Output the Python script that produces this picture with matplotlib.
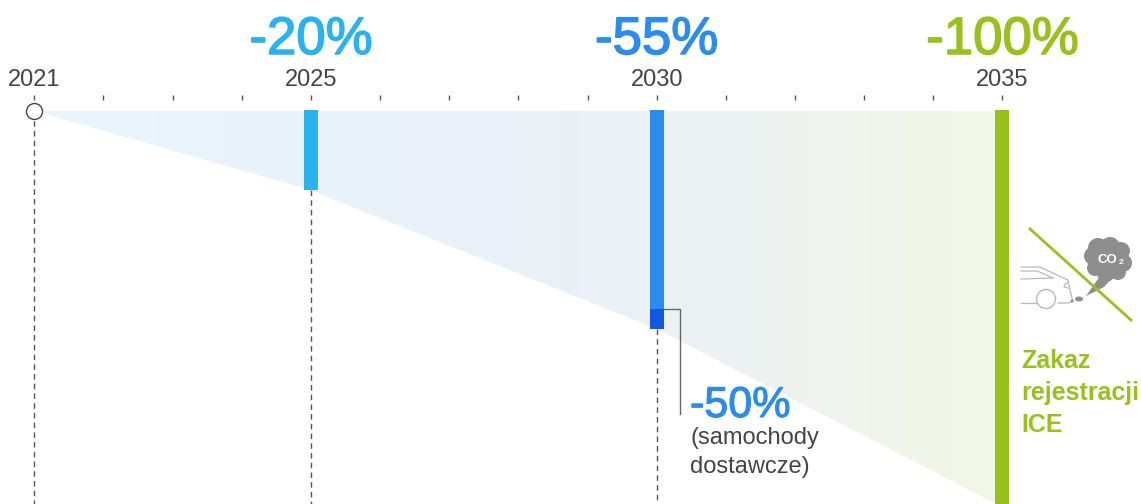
import numpy as np
import matplotlib
matplotlib.use("Agg")
import matplotlib.pyplot as plt
from matplotlib.colors import LinearSegmentedColormap
from matplotlib.patches import Polygon, Circle, Ellipse
import matplotlib.patheffects as pe

plt.rcParams['font.family'] = ['Liberation Sans', 'DejaVu Sans']

# ---- data ----
years_curve = [2021, 2025, 2030, 2035]
reduction_curve = [0, 20, 55, 100]
tick_years = list(range(2021, 2036))
label_years = [2021, 2025, 2030, 2035]
label_texts = ['2021', '2025', '2030', '2035']
target_years = [2025, 2030, 2035]
target_values = [20, 55, 100]
target_labels = ['-20%', '-55%', '-100%']
van_year = 2030
van_value = 50
van_label = '-50%'
van_note = ['(samochody', 'dostawcze)']
ban_label = ['Zakaz', 'rejestracji', 'ICE']

# ---- styles ----
W, H = 1141, 504
C_LIGHT = '#2ab2ee'
C_BLUE = '#2a8cee'
C_DARK = '#1259e0'
C_GREEN = '#98c11d'
C_TEXT = '#444444'
C_LINE = '#555555'
target_colors = [C_LIGHT, C_BLUE, C_GREEN]

PX_PER_YEAR = 69.15
X0_PX = 34.3
Y0_PX = 111.0
PX_PER_PCT = 3.96
BAR_W = 14 / PX_PER_YEAR


def yp(px):
    """Vertical pixel position expressed on the percent axis."""
    return (px - Y0_PX) / PX_PER_PCT


def xp(px):
    """Horizontal pixel position expressed on the year axis."""
    return 2021 + (px - X0_PX) / PX_PER_YEAR


fig = plt.figure(figsize=(W / 100, H / 100), dpi=100)
ax = fig.add_axes([0, 0, 1, 1])
xlim = (xp(0), xp(W))
ylim = (yp(H), yp(0))
ax.axis('off')

# gradient wedge
cmap = LinearSegmentedColormap.from_list(
    'wedge', ['#e9f6fd', '#e9f2fa', '#e9f0f7', '#edf2f1', '#f3f7e6'])
grad = np.linspace(0, 1, 256).reshape(1, -1)
im = ax.imshow(grad, extent=[2021, 2035, 100, 0], cmap=cmap, aspect='auto',
               zorder=1, interpolation='bilinear')
ax.set_xlim(*xlim)
ax.set_ylim(*ylim)
verts = [(2021, 0)] + [(2035, 0)] + list(zip(years_curve[::-1], reduction_curve[::-1]))
clip = Polygon(verts, closed=True, transform=ax.transData, fc='none', ec='none')
ax.add_patch(clip)
im.set_clip_path(clip)

# dashed guides
for yr, v in zip(years_curve[:-1], reduction_curve[:-1]):
    ax.plot([yr, yr], [v, 100], color=C_LINE, lw=1, dashes=(4, 3), zorder=2)

# year ticks
ax.vlines(tick_years, yp(95), yp(100), color=C_LINE, lw=1, zorder=2)

# bars
top = yp(110)
for yr, v, c in zip(target_years, target_values, target_colors):
    ax.bar(yr, v - top, bottom=top, width=BAR_W, color=c, zorder=3)
ax.bar(van_year, target_values[1] - van_value, bottom=van_value, width=BAR_W,
       color=C_DARK, zorder=4)

# leader for van target
x_lead = van_year + 23 / PX_PER_YEAR
ax.plot([van_year + BAR_W / 2, x_lead, x_lead], [van_value, van_value, yp(414)],
        color='#666666', lw=1, zorder=2)

# start marker
ax.plot([2021], [0], 'o', ms=11.5, mfc='white', mec='#444444', mew=1, zorder=5)

# labels
for yr, t in zip(label_years, label_texts):
    ax.text(yr, yp(86), t, ha='center', va='baseline', fontsize=17, color=C_TEXT, zorder=6)
for yr, t, c in zip(target_years, target_labels, target_colors):
    ax.text(yr, yp(54), t, ha='center', va='baseline', fontsize=38, color=c, zorder=6,
            path_effects=[pe.withStroke(linewidth=1.1, foreground=c)])

xl = xp(690)
ax.text(xl, yp(417), van_label, ha='left', va='baseline', fontsize=31, color=C_BLUE,
        path_effects=[pe.withStroke(linewidth=0.8, foreground=C_BLUE)], zorder=6)
for t, y in zip(van_note, [444, 473]):
    ax.text(xl, yp(y), t, ha='left', va='baseline', fontsize=17, color=C_TEXT, zorder=6)

xb = xp(1021)
for t, y in zip(ban_label, [368, 400, 432]):
    ax.text(xb, yp(y), t, ha='left', va='baseline', fontsize=18, fontweight='bold',
            color=C_GREEN, zorder=6)

# ---- decorative icon, in pixel coordinates ----
ic = fig.add_axes([0, 0, 1, 1], facecolor='none')
ic.set_xlim(0, W)
ic.set_ylim(H, 0)
ic.axis('off')
G = '#b9b9b9'
CL = '#8e8e8e'
for (cx, cy, r) in [(1108, 259, 19), (1098, 248, 10), (1110, 247, 10), (1121, 251, 9),
                    (1123, 263, 9), (1118, 272, 8), (1106, 273, 9), (1095, 268, 8), (1093, 256, 9)]:
    ic.add_patch(Circle((cx, cy), r, fc=CL, ec='none', zorder=2))
ic.add_patch(Polygon([(1086, 296), (1100, 276), (1114, 276), (1104, 287)], fc=CL, ec='none', zorder=2))
ic.text(1097.5, 260, 'CO', color='white', fontsize=9.5, fontweight='bold', ha='left', va='center', zorder=3)
ic.text(1119, 262, '2', color='white', fontsize=6, fontweight='bold', ha='left', va='center', zorder=3)
ic.plot([1021, 1040, 1057, 1068, 1070, 1072, 1073, 1068, 1058], [267, 267, 275, 280, 290, 298, 301, 303, 303],
        color=G, lw=0.9, zorder=2)
ic.plot([1021, 1037, 1053], [271, 271, 278], color=G, lw=0.9, zorder=2)
ic.plot([1021, 1053], [279, 278], color=G, lw=0.9, zorder=2)
ic.plot([1021, 1036], [303, 303], color=G, lw=0.9, zorder=2)
ic.plot([1069, 1065, 1064, 1068], [282, 284, 287, 288], color=G, lw=0.9, zorder=2)
ic.add_patch(Circle((1046, 299), 9.5, fc='white', ec=G, lw=1, zorder=2))
ic.add_patch(Ellipse((1079, 299), 8, 5, fc=CL, ec='none', zorder=2))
ic.add_patch(Ellipse((1072, 301), 3, 3, fc=CL, ec='none', zorder=2))
ic.plot([1029, 1132], [228, 321], color=C_GREEN, lw=2, zorder=4, solid_capstyle='butt')

fig.savefig('out.png', dpi=100, facecolor='white')
